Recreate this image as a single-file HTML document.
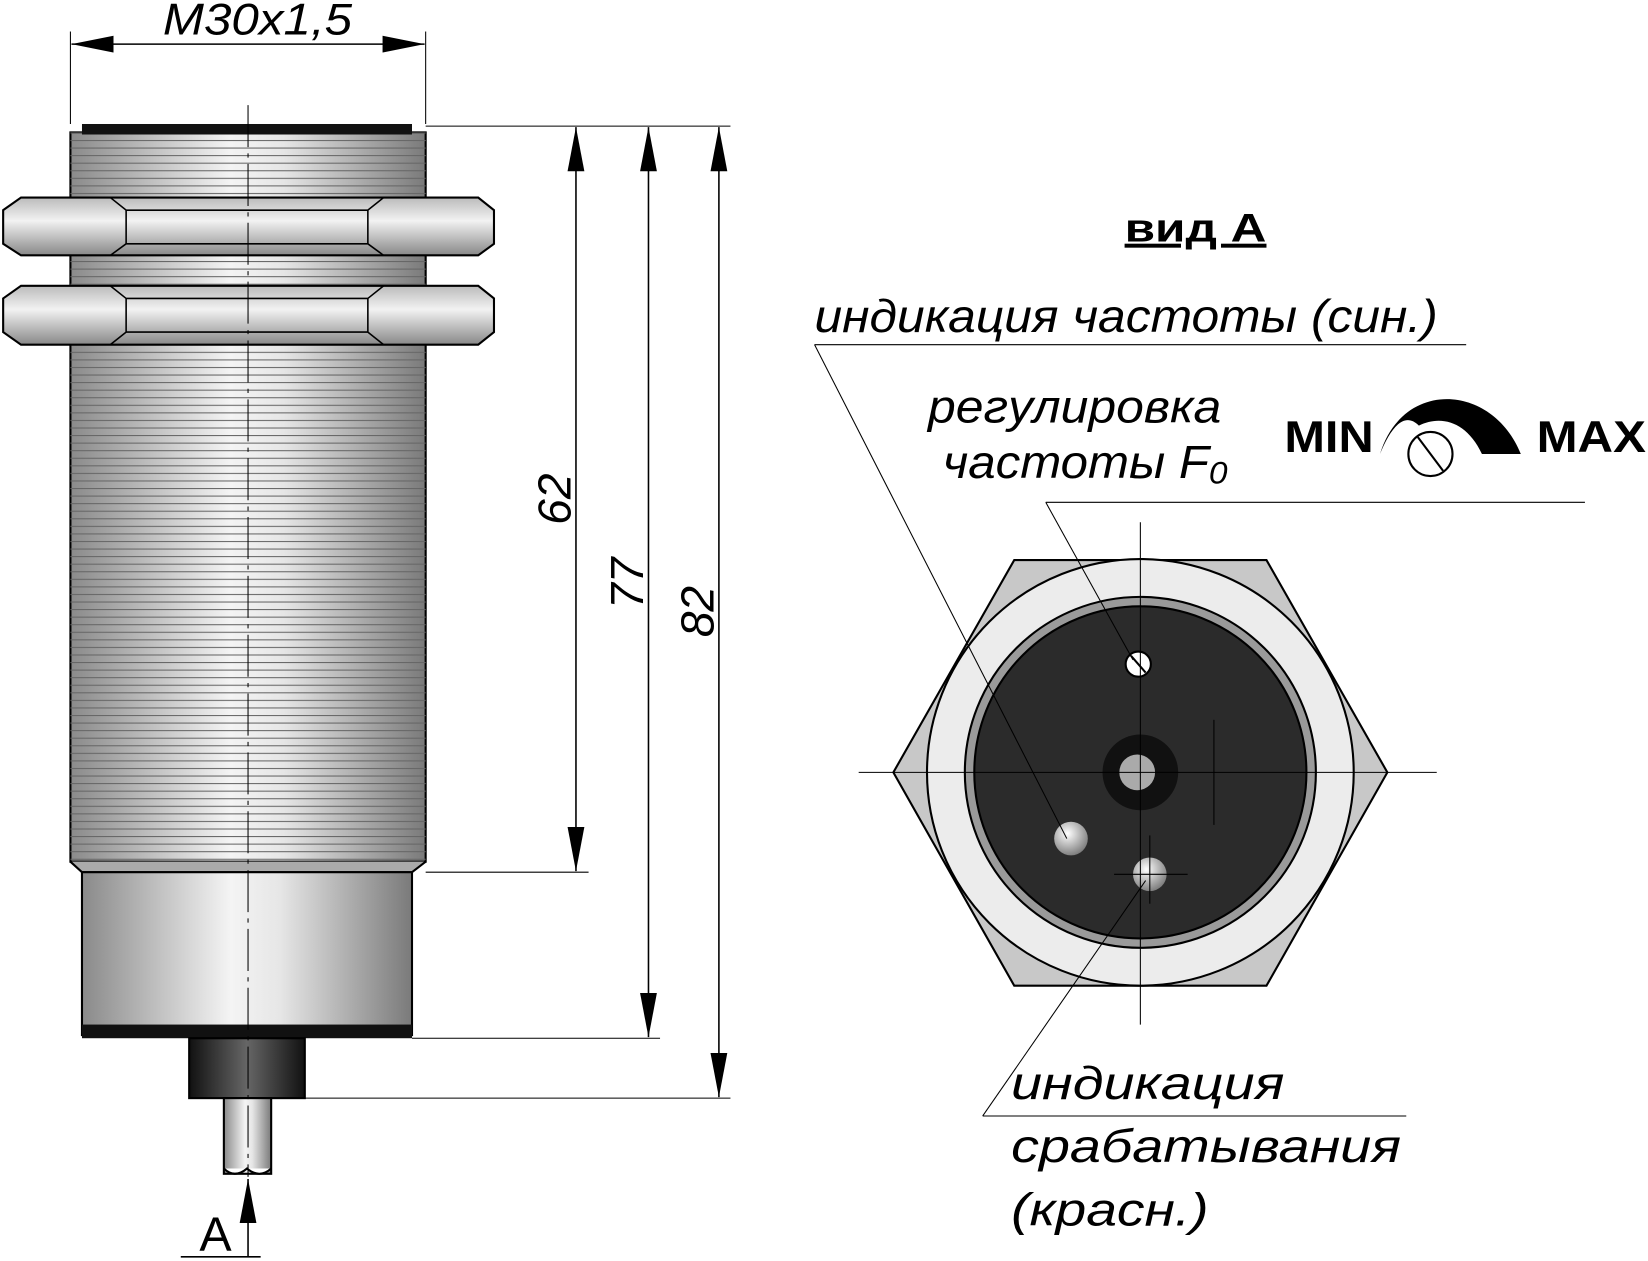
<!DOCTYPE html>
<html><head><meta charset="utf-8"><style>html,body{margin:0;padding:0;background:#fff}svg{display:block}</style></head>
<body>
<svg width="1648" height="1261" viewBox="0 0 1568 1200" preserveAspectRatio="none" xmlns="http://www.w3.org/2000/svg" font-family="Liberation Sans, sans-serif">
<defs>
<linearGradient id="cyl" x1="0" x2="1" y1="0" y2="0">
<stop offset="0" stop-color="#8a8a8a"/><stop offset="0.45" stop-color="#f4f4f4"/><stop offset="0.6" stop-color="#e6e6e6"/><stop offset="1" stop-color="#7a7a7a"/></linearGradient>
<linearGradient id="nut" x1="0" x2="0" y1="0" y2="1">
<stop offset="0" stop-color="#bbb"/><stop offset="0.4" stop-color="#f2f2f2"/><stop offset="1" stop-color="#888"/></linearGradient>
<linearGradient id="dark" x1="0" x2="1"><stop offset="0" stop-color="#111"/><stop offset="0.5" stop-color="#666"/><stop offset="1" stop-color="#111"/></linearGradient>
<pattern id="thr" x="0" y="126" width="10" height="7.2" patternUnits="userSpaceOnUse"><line x1="0" y1="0.5" x2="10" y2="0.5" stroke="#666" stroke-width="1"/></pattern>
<radialGradient id="led" cx="0.4" cy="0.35" r="0.7"><stop offset="0" stop-color="#fff"/><stop offset="1" stop-color="#777"/></radialGradient>
<marker id="ar" viewBox="0 0 10 10" refX="10" refY="5" markerWidth="42" markerHeight="16" orient="auto-start-reverse" markerUnits="userSpaceOnUse" preserveAspectRatio="none"><path d="M0,0 L10,5 L0,10 z" fill="#000"/></marker>
<marker id="arh" viewBox="0 0 10 10" refX="10" refY="5" markerWidth="40" markerHeight="16" orient="auto-start-reverse" markerUnits="userSpaceOnUse" preserveAspectRatio="none"><path d="M0,0 L10,5 L0,10 z" fill="#000"/></marker>
</defs>

<rect x="67" y="126" width="338" height="694" fill="url(#cyl)" stroke="#000" stroke-width="2"/>
<rect x="67" y="126" width="338" height="694" fill="url(#thr)"/>
<path d="M67,820 L78,830 L392,830 L405,820" fill="#aaa" stroke="#000" stroke-width="2"/>
<rect x="78" y="118" width="314" height="10" fill="#111"/>
<rect x="78" y="830" width="314" height="155" fill="url(#cyl)" stroke="#000" stroke-width="2"/>
<rect x="78" y="975" width="314" height="13" fill="#111"/>
<rect x="180" y="988" width="110" height="57" fill="url(#dark)" stroke="#000" stroke-width="2"/>
<rect x="213" y="1045" width="45" height="72" fill="url(#cyl)" stroke="#000" stroke-width="2"/>
<path d="M213,1112 q10,10 22,0 q12,10 23,0" fill="#fff" stroke="#000" stroke-width="2"/>
<g stroke="#000" stroke-width="2" fill="url(#nut)">
<path d="M3,200 L20,188 L455,188 L470,200 L470,232 L455,243 L20,243 L3,232 Z"/>
<path d="M3,284 L20,272 L455,272 L470,284 L470,316 L455,328 L20,328 L3,316 Z"/>
</g>
<g stroke="#000" stroke-width="1.5" fill="none">
<path d="M120,200 L105,188 M120,200 L120,232 L105,243 M120,200 L350,200 M120,232 L350,232 M350,200 L365,188 M350,200 L350,232 L365,243"/>
<path d="M120,284 L105,272 M120,284 L120,316 L105,328 M120,284 L350,284 M120,316 L350,316 M350,284 L365,272 M350,284 L350,316 L365,328"/>
</g>
<line x1="236" y1="100" x2="236" y2="1120" stroke="#000" stroke-width="1" stroke-dasharray="40,6,4,6"/>
<line x1="67" y1="30" x2="67" y2="118" stroke="#000"/><line x1="405" y1="30" x2="405" y2="118" stroke="#000"/>
<line x1="68" y1="42" x2="404" y2="42" stroke="#000" stroke-width="1.5" marker-start="url(#arh)" marker-end="url(#arh)"/>
<text x="155" y="33" font-size="42" font-style="italic" textLength="180" lengthAdjust="spacingAndGlyphs">M30x1,5</text>
<g stroke="#000" stroke-width="1">
<line x1="405" y1="120" x2="695" y2="120"/>
<line x1="405" y1="830" x2="560" y2="830"/>
<line x1="392" y1="988" x2="628" y2="988"/>
<line x1="290" y1="1045" x2="695" y2="1045"/>
<line x1="548" y1="121" x2="548" y2="829" stroke-width="1.5" marker-start="url(#ar)" marker-end="url(#ar)"/>
<line x1="617" y1="121" x2="617" y2="987" stroke-width="1.5" marker-start="url(#ar)" marker-end="url(#ar)"/>
<line x1="684" y1="121" x2="684" y2="1044" stroke-width="1.5" marker-start="url(#ar)" marker-end="url(#ar)"/>
</g>
<text transform="translate(543,475) rotate(-90)" font-size="44" font-style="italic" text-anchor="middle">62</text>
<text transform="translate(612,555) rotate(-90)" font-size="44" font-style="italic" text-anchor="middle">77</text>
<text transform="translate(679,582) rotate(-90)" font-size="44" font-style="italic" text-anchor="middle">82</text>
<line x1="236" y1="1196" x2="236" y2="1122" stroke="#000" stroke-width="1.5" marker-end="url(#ar)"/>
<line x1="172" y1="1196" x2="248" y2="1196" stroke="#000" stroke-width="1.5"/>
<text x="205" y="1190" font-size="46" text-anchor="middle">A</text>

<text x="1070" y="230" font-size="38" font-weight="bold" text-decoration="underline" textLength="135" lengthAdjust="spacingAndGlyphs">вид А</text>
<polygon points="965,533 1205,533 1320,735 1205,938 965,938 850,735" fill="#c8c8c8" stroke="#000" stroke-width="2"/>
<circle cx="1085" cy="735" r="203" fill="#ececec" stroke="#000" stroke-width="2"/>
<circle cx="1085" cy="735" r="167" fill="#9a9a9a" stroke="#000" stroke-width="2"/>
<circle cx="1085" cy="735" r="158" fill="#2b2b2b" stroke="#000" stroke-width="2"/>
<circle cx="1085" cy="735" r="36" fill="#111"/>
<circle cx="1082" cy="735" r="17" fill="#aaa"/>
<circle cx="1083" cy="632" r="12" fill="#fff" stroke="#000" stroke-width="2"/>
<line x1="1076" y1="624" x2="1090" y2="640" stroke="#000" stroke-width="2"/>
<circle cx="1019" cy="798" r="16" fill="url(#led)"/>
<circle cx="1094" cy="832" r="16" fill="url(#led)"/>
<g stroke="#000" stroke-width="1">
<line x1="817" y1="735" x2="1367" y2="735"/>
<line x1="1085" y1="497" x2="1085" y2="975"/>
<line x1="1155" y1="685" x2="1155" y2="785"/>
<line x1="1060" y1="832" x2="1130" y2="832"/>
<line x1="1094" y1="795" x2="1094" y2="860"/>
<line x1="775" y1="328" x2="1395" y2="328"/>
<line x1="775" y1="328" x2="1015" y2="798"/>
<line x1="995" y1="478" x2="1508" y2="478"/>
<line x1="995" y1="478" x2="1078" y2="628"/>
<line x1="935" y1="1062" x2="1338" y2="1062"/>
<line x1="935" y1="1062" x2="1090" y2="838"/>
</g>
<g font-size="44" font-style="italic">
<text x="775" y="316" textLength="593" lengthAdjust="spacingAndGlyphs">индикация частоты (син.)</text>
<text x="883" y="402" textLength="279" lengthAdjust="spacingAndGlyphs">регулировка</text>
<text x="897" y="455" textLength="271" lengthAdjust="spacingAndGlyphs">частоты F<tspan font-size="30" dy="5">0</tspan></text>
<text x="962" y="1046" textLength="260" lengthAdjust="spacingAndGlyphs">индикация</text>
<text x="962" y="1106" textLength="371" lengthAdjust="spacingAndGlyphs">срабатывания</text>
<text x="962" y="1166" textLength="188" lengthAdjust="spacingAndGlyphs">(красн.)</text>
</g>
<text x="1222" y="430" font-size="42" font-weight="bold" textLength="85" lengthAdjust="spacingAndGlyphs">MIN</text>
<text x="1462" y="430" font-size="42" font-weight="bold" textLength="104" lengthAdjust="spacingAndGlyphs">MAX</text>
<path d="M1313,432 C1335,360 1420,365 1447,432 L1410,432 C1395,400 1370,395 1350,405 C1335,390 1322,410 1313,432 Z" fill="#000"/>
<circle cx="1361" cy="432" r="21" fill="#fff" stroke="#000" stroke-width="2"/>
<line x1="1349" y1="416" x2="1373" y2="448" stroke="#000" stroke-width="2"/>
</svg>
</body></html>
